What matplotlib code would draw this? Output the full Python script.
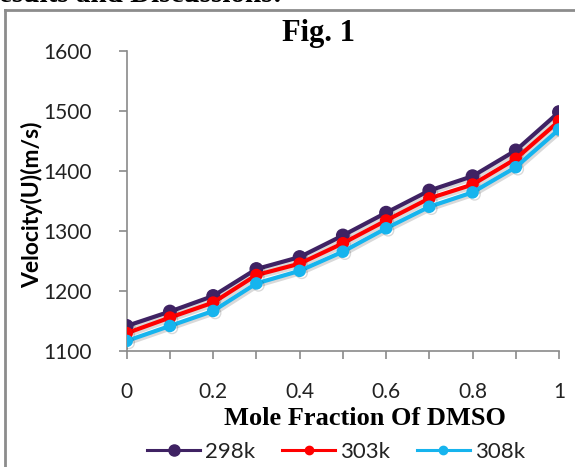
import matplotlib
matplotlib.use("Agg")
from matplotlib import pyplot as plt
from matplotlib.lines import Line2D
import matplotlib.patheffects as pe

# mole fraction of DMSO
mole_frac = [0, 0.1, 0.2, 0.3, 0.4, 0.5, 0.6, 0.7, 0.8, 0.9, 1.0]
# velocity U (m/s) at three temperatures
u_298 = [1141, 1165, 1191, 1236, 1256, 1292, 1330, 1367, 1391, 1434, 1498]
u_303 = [1129, 1155, 1180, 1226, 1245, 1279, 1317, 1354, 1377, 1420, 1483]
u_308 = [1116, 1141, 1166, 1212, 1233, 1265, 1304, 1340, 1364, 1406, 1469]
series_names = ['298k', '303k', '308k']
x_ticks = [0, 0.2, 0.4, 0.6, 0.8, 1]
y_ticks = [1100, 1200, 1300, 1400, 1500, 1600]

W, H = 575, 467
fig = plt.figure(figsize=(W / 100, H / 100), dpi=100)

# axes placed in pixel units
l, r, t, b = 126.7, 559, 51, 350.5
ax = fig.add_axes([l / W, 1 - b / H, (r - l) / W, (b - t) / H])

shadow = [pe.SimpleLineShadow(offset=(1.5, -1.5), shadow_color='black', alpha=0.15),
          pe.Normal()]
ax.plot(mole_frac, u_298, '-o', color='#3f2263', lw=3, ms=9, label=series_names[0],
        path_effects=shadow, zorder=3)
ax.plot(mole_frac, u_303, '-o', color='#ff0000', lw=3, ms=8, label=series_names[1],
        path_effects=shadow, zorder=4)
ax.plot(mole_frac, u_308, '-o', color='#16b4ee', lw=3, ms=8, label=series_names[2],
        path_effects=shadow, zorder=5)

ax.set_xlim(0, 1)
ax.set_ylim(1100, 1600)
ax.set_xticks(x_ticks)
ax.set_xticks([0.1, 0.3, 0.5, 0.7, 0.9], minor=True)
ax.set_xticklabels([str(v) for v in x_ticks])
ax.set_yticks(y_ticks)
for s in ['top', 'right']:
    ax.spines[s].set_visible(False)
for s in ['left', 'bottom']:
    ax.spines[s].set_color('#8a8a8a')
    ax.spines[s].set_linewidth(1.2)
ax.tick_params(axis='both', which='both', direction='out', color='#8a8a8a',
               length=6, width=1.2, labelsize=15)
ax.tick_params(axis='x', which='both', pad=17)
ax.tick_params(axis='y', pad=19)
for lab in ax.get_xticklabels() + ax.get_yticklabels():
    lab.set_fontfamily('Lato')
    lab.set_color('#222222')

fig.text(32 / W, 1 - 205 / H, 'Velocity(U)(m/s)', rotation=90, ha='center', va='center',
         fontsize=16.5, fontweight='bold', family='Lato')
fig.text(365 / W, 1 - 425 / H, 'Mole Fraction Of DMSO', ha='center', va='baseline',
         fontsize=19, fontweight='bold', family='Liberation Serif')
fig.text(318 / W, 1 - 34 / H, 'Fig. 1', ha='center', va='center',
         fontsize=22, fontweight='bold', family='Liberation Serif')

# heading of the page, mostly cut off at the top
fig.text(282 / W, 1 - 2 / H, 'Results and Discussions:', ha='right', va='baseline',
         fontsize=21, fontweight='bold', family='Liberation Serif')

leg = fig.legend(loc='center', bbox_to_anchor=(336 / W, 1 - 452 / H), ncol=3,
                 frameon=False, handlelength=2.4, handletextpad=0.22, columnspacing=1.2,
                 prop={'family': 'Lato', 'size': 16})
for h, ms in zip(leg.legend_handles, [8, 6, 6]):
    h.set_path_effects([])
    h.set_markersize(ms)
    h.set_linewidth(2.2)
for txt in leg.get_texts():
    txt.set_color('#222222')

# frame around the chart (left and top edges visible)
fig.add_artist(Line2D([5 / W, 5 / W], [0, 1 - 10 / H], color='#8c8c8c', lw=2))
fig.add_artist(Line2D([5 / W, 1], [1 - 10 / H, 1 - 10 / H], color='#8c8c8c', lw=2))

fig.savefig('out.png', dpi=100)
